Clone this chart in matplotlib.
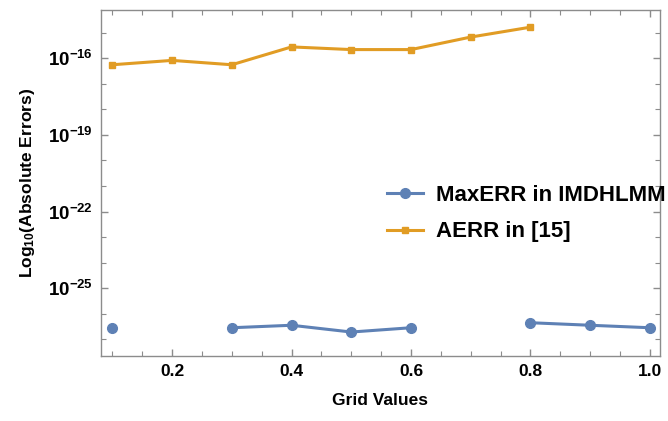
import numpy as np
import matplotlib
matplotlib.use("Agg")
import matplotlib.pyplot as plt
from matplotlib.ticker import FixedLocator, FuncFormatter

plt.rcParams['font.family'] = ['Liberation Sans', 'DejaVu Sans']
plt.rcParams['font.weight'] = 'bold'
plt.rcParams['mathtext.fontset'] = 'custom'
plt.rcParams['mathtext.rm'] = 'Liberation Sans:bold'
plt.rcParams['mathtext.bf'] = 'Liberation Sans:bold'
plt.rcParams['mathtext.it'] = 'Liberation Sans:bold'

# grid values
grid = [0.1, 0.2, 0.3, 0.4, 0.5, 0.6, 0.7, 0.8, 0.9, 1.0]
# MaxERR in IMDHLMM (missing at 0.2 and 0.7)
max_err = [2.8e-27, np.nan, 2.8e-27, 3.5e-27, 1.9e-27, 2.8e-27, np.nan, 4.4e-27, 3.5e-27, 2.8e-27]
# AERR in [15]
grid_ref = [0.1, 0.2, 0.3, 0.4, 0.5, 0.6, 0.7, 0.8]
aerr_ref = [5.6e-17, 8.3e-17, 5.6e-17, 2.8e-16, 2.2e-16, 2.2e-16, 6.8e-16, 1.66e-15]

blue = '#5E81B5'
orange = '#E19C24'
gray = '#8c8c8c'

fig = plt.figure(figsize=(6.68, 4.21), dpi=100)
ax = fig.add_axes([101/668, 1-356/421, (660-101)/668, (356-10)/421])

ax.plot(grid, max_err, '-o', color=blue, lw=2.2, ms=7, label='MaxERR in IMDHLMM')
ax.plot(grid_ref, aerr_ref, '-s', color=orange, lw=2.2, ms=4.5, label='AERR in [15]')

ax.set_yscale('log')
ax.set_xlim(0.081, 1.017)
ax.set_ylim(10**-27.66, 10**-14.107)

ax.xaxis.set_major_locator(FixedLocator([0.2, 0.4, 0.6, 0.8, 1.0]))
ax.xaxis.set_minor_locator(FixedLocator(np.arange(0.1, 1.01, 0.05)))
ax.xaxis.set_major_formatter(FuncFormatter(lambda v, p: '%.1f' % v))

ax.yaxis.set_major_locator(FixedLocator([1e-25, 1e-22, 1e-19, 1e-16]))
ax.yaxis.set_minor_locator(FixedLocator([10.0**k for k in range(-28, -13)]))
ax.yaxis.set_major_formatter(FuncFormatter(lambda v, p: r'$10^{%d}$' % round(np.log10(v))))
ax.yaxis.set_minor_formatter(FuncFormatter(lambda v, p: ''))

for s in ax.spines.values():
    s.set_color(gray)
    s.set_linewidth(1.0)
ax.tick_params(which='both', direction='in', top=True, right=True, color=gray)
ax.tick_params(which='major', length=5, width=1.0, labelsize=12.5, pad=6)
ax.tick_params(which='minor', length=3.5, width=0.8)
ax.tick_params(axis='y', which='major', labelsize=13.5)

ax.set_xlabel('Grid Values', fontsize=12.5, fontweight='bold', labelpad=10)
ax.set_ylabel(r'Log$_{10}$(Absolute Errors)', fontsize=12.5, fontweight='bold', labelpad=8)

leg = fig.legend(loc='center left', bbox_to_anchor=(387/668, 1-213.5/421),
                 frameon=False, fontsize=16, handlelength=1.6, handletextpad=0.6,
                 labelspacing=0.7, borderpad=0, borderaxespad=0)
for t in leg.get_texts():
    t.set_fontweight('bold')

fig.savefig('out.png', dpi=100)
